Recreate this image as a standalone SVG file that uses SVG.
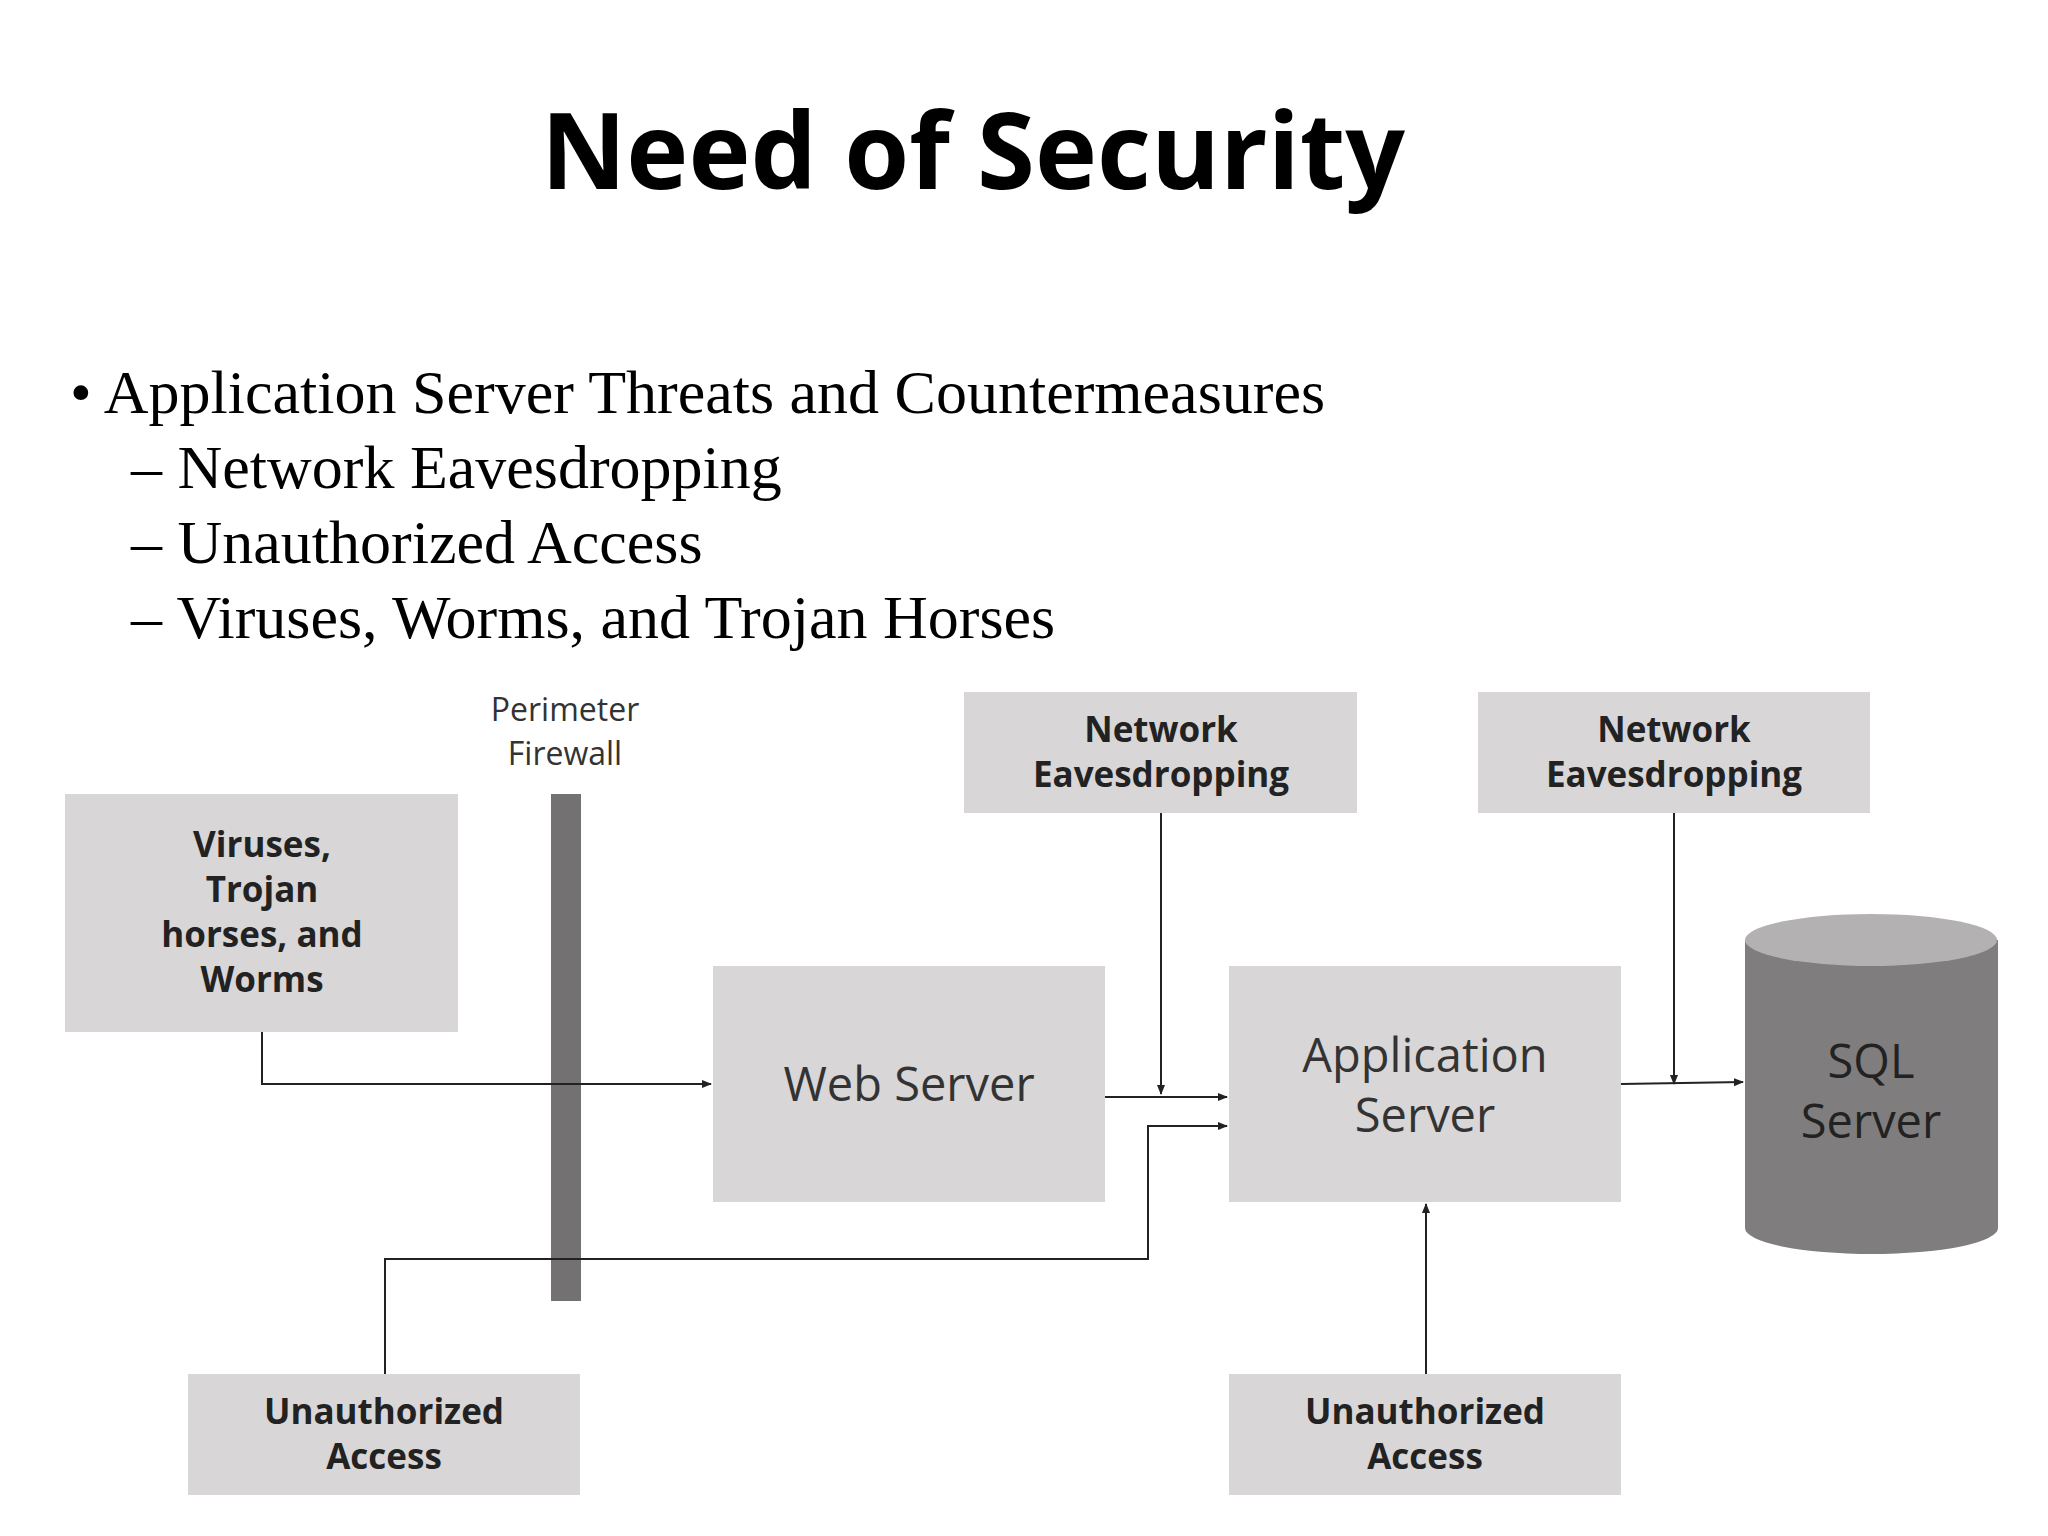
<svg xmlns="http://www.w3.org/2000/svg" width="2048" height="1536" viewBox="0 0 2048 1536">
<style>
.box{fill:#d8d6d7}
.lb{font-family:"Open Sans","Liberation Sans",sans-serif;font-weight:bold;font-size:35px;fill:#222;text-anchor:middle}
.big{font-family:"Open Sans","Liberation Sans",sans-serif;font-size:47px;fill:#333;text-anchor:middle}
.bul{font-family:"Liberation Serif",serif;font-size:62px;fill:#000}
.c{fill:none;stroke:#222;stroke-width:2}
</style>
<defs><marker id="a" markerWidth="10" markerHeight="10" refX="9" refY="5" orient="auto" markerUnits="userSpaceOnUse"><path d="M0,1 L10,5 L0,9z" fill="#222"/></marker></defs>
<rect width="2048" height="1536" fill="#fff"/>
<text x="973" y="189" text-anchor="middle" font-family="Open Sans,Liberation Sans,sans-serif" font-weight="bold" font-size="105">Need of Security</text>
<text class="bul" x="70" y="413">• Application Server Threats and Countermeasures</text>
<text class="bul" x="131" y="488">– Network Eavesdropping</text>
<text class="bul" x="131" y="563">– Unauthorized Access</text>
<text class="bul" x="131" y="638">– Viruses, Worms, and Trojan Horses</text>
<g id="viruses"><rect class="box" x="65" y="794" width="393" height="238"/><text class="lb"><tspan x="262" y="857">Viruses,</tspan><tspan x="262" y="902">Trojan</tspan><tspan x="262" y="947">horses, and</tspan><tspan x="262" y="992">Worms</tspan></text></g>
<g id="firewall"><rect x="551" y="794" width="30" height="507" fill="#737171"/><text class="lb" style="font-weight:normal;font-size:32px;fill:#333"><tspan x="565" y="721">Perimeter</tspan><tspan x="565" y="765">Firewall</tspan></text></g>
<g id="web"><rect class="box" x="713" y="966" width="392" height="236"/><text class="big" x="909" y="1101">Web Server</text></g>
<g id="ne1"><rect class="box" x="964" y="692" width="393" height="121"/><text class="lb"><tspan x="1161" y="742">Network</tspan><tspan x="1161" y="787">Eavesdropping</tspan></text></g>
<g id="ne2"><rect class="box" x="1478" y="692" width="392" height="121"/><text class="lb"><tspan x="1674" y="742">Network</tspan><tspan x="1674" y="787">Eavesdropping</tspan></text></g>
<g id="app"><rect class="box" x="1229" y="966" width="392" height="236"/><text class="big"><tspan x="1425" y="1072">Application</tspan><tspan x="1425" y="1132">Server</tspan></text></g>
<g id="sql"><path d="M1745,940 V1228 A126,26 0 0 0 1998,1228 V940z" fill="#7f7d7e"/><ellipse cx="1871" cy="940" rx="126" ry="26" fill="#b3b1b2"/><text class="big" style="fill:#222"><tspan x="1871" y="1078">SQL</tspan><tspan x="1871" y="1138">Server</tspan></text></g>
<g id="ua1"><rect class="box" x="188" y="1374" width="392" height="121"/><text class="lb"><tspan x="384" y="1424">Unauthorized</tspan><tspan x="384" y="1469">Access</tspan></text></g>
<g id="ua2"><rect class="box" x="1229" y="1374" width="392" height="121"/><text class="lb"><tspan x="1425" y="1424">Unauthorized</tspan><tspan x="1425" y="1469">Access</tspan></text></g>
<g id="connectors">
<path class="c" d="M262,1032 V1084 H711" marker-end="url(#a)"/>
<path class="c" d="M1105,1097 H1227" marker-end="url(#a)"/>
<path class="c" d="M1161,813 V1094" marker-end="url(#a)"/>
<path class="c" d="M385,1374 V1259 H1148 V1126 H1227" marker-end="url(#a)"/>
<path class="c" d="M1674,813 V1084" marker-end="url(#a)"/>
<path class="c" d="M1621,1084 L1743,1082" marker-end="url(#a)"/>
<path class="c" d="M1426,1374 V1204" marker-end="url(#a)"/>
</g>
</svg>
